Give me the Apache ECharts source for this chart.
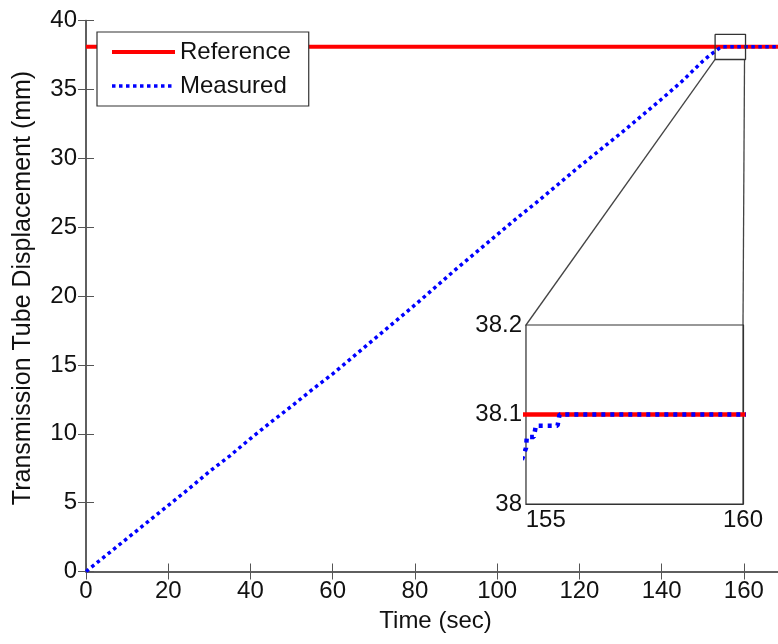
<!DOCTYPE html>
<html>
<head>
<meta charset="utf-8">
<script src="https://cdn.jsdelivr.net/npm/echarts@6/dist/echarts.min.js"></script>
<style>
html, body { margin: 0; padding: 0; background: #fff; }
#main { width: 778px; height: 644px; }
</style>
</head>
<body>
<div id="main"></div>
<script>
// reference position (mm) vs time (sec)
var refT = [0, 170];
var refY = [38.1, 38.1];

// measured tube displacement
var measT = [0, 5, 10, 15, 20, 25, 30, 35, 40, 45, 50, 55, 60, 65, 70, 75, 80, 85, 90, 95,
    100, 105, 110, 115, 120, 125, 130, 135, 140, 145, 150, 152, 153, 154, 154.4,
    154.5, 154.52, 154.7, 154.75, 155.3, 155.35, 170];
var measY = [0, 1.2, 2.4, 3.6, 4.8, 6.0, 7.25, 8.4, 9.65, 10.85, 12.0, 13.2, 14.35, 15.6, 16.85, 18.1, 19.35, 20.65, 21.95, 23.2,
    24.45, 25.7, 26.9, 28.15, 29.4, 30.6, 31.8, 33.05, 34.3, 35.6, 37.05, 37.55, 37.75, 37.98, 38.05,
    38.0625, 38.075, 38.075, 38.0875, 38.0875, 38.1, 38.1];

// zoom rectangle on the main axes
var boxT = [153, 160.4, 160.4, 153, 153];
var boxY = [39.0, 39.0, 37.17, 37.17, 39.0];

// inset ranges and ticks
var insetX = [154.5, 160];
var insetY = [38, 38.2];
var insetXTicks = [155, 160];

function pairs(xs, ys) {
    return xs.map(function (x, i) { return [x, ys[i]]; });
}

var font = 'Liberation Sans, Arial, sans-serif';
var axisCol = '#555';
var txt = { color: '#111', fontSize: 24, fontFamily: font };

var myChart = echarts.init(document.getElementById('main'));

var option = {
    animation: false,
    backgroundColor: '#fff',
    grid: [
        { left: 86, top: 20.5, width: 699, height: 551, outerBoundsMode: 'none' },
        { left: 526, top: 325, width: 217, height: 179, outerBoundsMode: 'none',
          show: true, backgroundColor: '#fff', borderColor: '#333', borderWidth: 1.2, z: 5 }
    ],
    legend: {
        data: [
            { name: 'Reference', itemStyle: { opacity: 0 }, lineStyle: { color: '#ff0000', width: 4 } },
            { name: 'Measured', itemStyle: { opacity: 0 }, lineStyle: { color: '#0000ff', width: 3.5, type: [3.5, 3.5], cap: 'butt' } }
        ],
        orient: 'vertical',
        left: 97, top: 32,
        padding: [8, 18, 8, 13],
        itemGap: 10,
        itemWidth: 63, itemHeight: 20,
        itemTextGap: 7,
        backgroundColor: '#fff',
        borderColor: '#333', borderWidth: 1.2,
        textStyle: txt,
        z: 10
    },
    xAxis: [
        {   // main bottom
            gridIndex: 0, type: 'value', min: 0, max: 170, interval: 20,
            name: 'Time (sec)', nameLocation: 'middle', nameGap: 38, nameTextStyle: txt,
            axisLine: { lineStyle: { color: axisCol, width: 1.5 } },
            axisTick: { inside: true, length: 8, lineStyle: { color: axisCol } },
            axisLabel: Object.assign({ margin: 8, showMaxLabel: false }, txt),
            splitLine: { show: false }
        },
        {   // main top
            gridIndex: 0, type: 'value', position: 'top', min: 0, max: 170, interval: 20,
            axisLine: { lineStyle: { color: axisCol, width: 1.5 } },
            axisTick: { inside: true, length: 8, lineStyle: { color: axisCol } },
            axisLabel: { show: false }, splitLine: { show: false }
        },
        {   // inset bottom
            gridIndex: 1, type: 'value', min: insetX[0], max: insetX[1],
            axisLine: { lineStyle: { color: '#333', width: 1.2 } },
            axisTick: { inside: true, length: 4, customValues: insetXTicks, lineStyle: { color: '#333' } },
            axisLabel: Object.assign({ margin: 4, customValues: insetXTicks }, txt),
            splitLine: { show: false }
        },
        {   // inset top
            gridIndex: 1, type: 'value', position: 'top', min: insetX[0], max: insetX[1],
            axisLine: { lineStyle: { color: '#333', width: 1.2 } },
            axisTick: { inside: true, length: 4, customValues: insetXTicks, lineStyle: { color: '#333' } },
            axisLabel: { show: false }, splitLine: { show: false }
        }
    ],
    yAxis: [
        {   // main left
            gridIndex: 0, type: 'value', min: 0, max: 40, interval: 5,
            name: 'Transmission Tube Displacement (mm)', nameLocation: 'middle', nameGap: 50,
            nameTextStyle: Object.assign({ padding: [0, 0, 0, 16] }, txt, { fontSize: 25 }),
            axisLine: { show: true, lineStyle: { color: axisCol, width: 1.5 } },
            axisTick: { show: true, inside: true, length: 8, lineStyle: { color: axisCol } },
            axisLabel: Object.assign({ margin: 9 }, txt),
            splitLine: { show: false }
        },
        {   // main right
            gridIndex: 0, type: 'value', position: 'right', min: 0, max: 40, interval: 5,
            axisLine: { show: true, lineStyle: { color: axisCol, width: 1.5 } },
            axisTick: { show: true, inside: true, length: 8, lineStyle: { color: axisCol } },
            axisLabel: { show: false }, splitLine: { show: false }
        },
        {   // inset left
            gridIndex: 1, type: 'value', min: insetY[0], max: insetY[1], interval: 0.1,
            axisLine: { show: true, lineStyle: { color: '#333', width: 1.2 } },
            axisTick: { show: true, inside: true, length: 4, lineStyle: { color: '#333' } },
            axisLabel: Object.assign({ margin: 4, formatter: function (v) { return +v.toFixed(1) + ''; } }, txt),
            splitLine: { show: false }
        },
        {   // inset right
            gridIndex: 1, type: 'value', position: 'right', min: insetY[0], max: insetY[1], interval: 0.1,
            axisLine: { show: true, lineStyle: { color: '#333', width: 1.2 } },
            axisTick: { show: true, inside: true, length: 4, lineStyle: { color: '#333' } },
            axisLabel: { show: false }, splitLine: { show: false }
        }
    ],
    series: [
        {
            name: 'Reference', type: 'line', xAxisIndex: 0, yAxisIndex: 0,
            data: pairs(refT, refY), symbol: 'none', color: '#ff0000',
            lineStyle: { color: '#ff0000', width: 4 }, z: 2
        },
        {
            name: 'Measured', type: 'line', xAxisIndex: 0, yAxisIndex: 0,
            data: pairs(measT, measY), symbol: 'none', color: '#0000ff',
            lineStyle: { color: '#0000ff', width: 3.5, type: [3.5, 3.5], cap: 'butt' }, z: 3
        },
        {
            name: 'Zoom box', type: 'line', xAxisIndex: 0, yAxisIndex: 0,
            data: pairs(boxT, boxY), symbol: 'none',
            lineStyle: { color: '#333', width: 1.3 }, z: 4
        },
        {
            name: 'Reference', type: 'line', xAxisIndex: 2, yAxisIndex: 2,
            data: pairs(refT, refY), symbol: 'none', color: '#ff0000',
            lineStyle: { color: '#ff0000', width: 4.5 }, z: 6
        },
        {
            name: 'Measured', type: 'line', xAxisIndex: 2, yAxisIndex: 2,
            data: pairs(measT, measY), symbol: 'none', color: '#0000ff',
            lineStyle: { color: '#0000ff', width: 4.5, type: [4, 5], cap: 'butt' }, z: 7
        }
    ]
};
myChart.setOption(option);

// connector lines from zoom box to inset
var p1 = myChart.convertToPixel({ gridIndex: 0 }, [boxT[0], boxY[2]]);
var p2 = myChart.convertToPixel({ gridIndex: 0 }, [boxT[1], boxY[2]]);
var q1 = myChart.convertToPixel({ gridIndex: 1 }, [insetX[0], insetY[1]]);
var q2 = myChart.convertToPixel({ gridIndex: 1 }, [insetX[1], insetY[1]]);
myChart.setOption({
    graphic: [
        { type: 'line', shape: { x1: p1[0], y1: p1[1], x2: q1[0], y2: q1[1] }, style: { stroke: '#444', lineWidth: 1.3 }, z: 4 },
        { type: 'line', shape: { x1: p2[0] - 1, y1: p2[1], x2: q2[0], y2: q2[1] }, style: { stroke: '#444', lineWidth: 1.3 }, z: 4 }
    ]
});
</script>
</body>
</html>
